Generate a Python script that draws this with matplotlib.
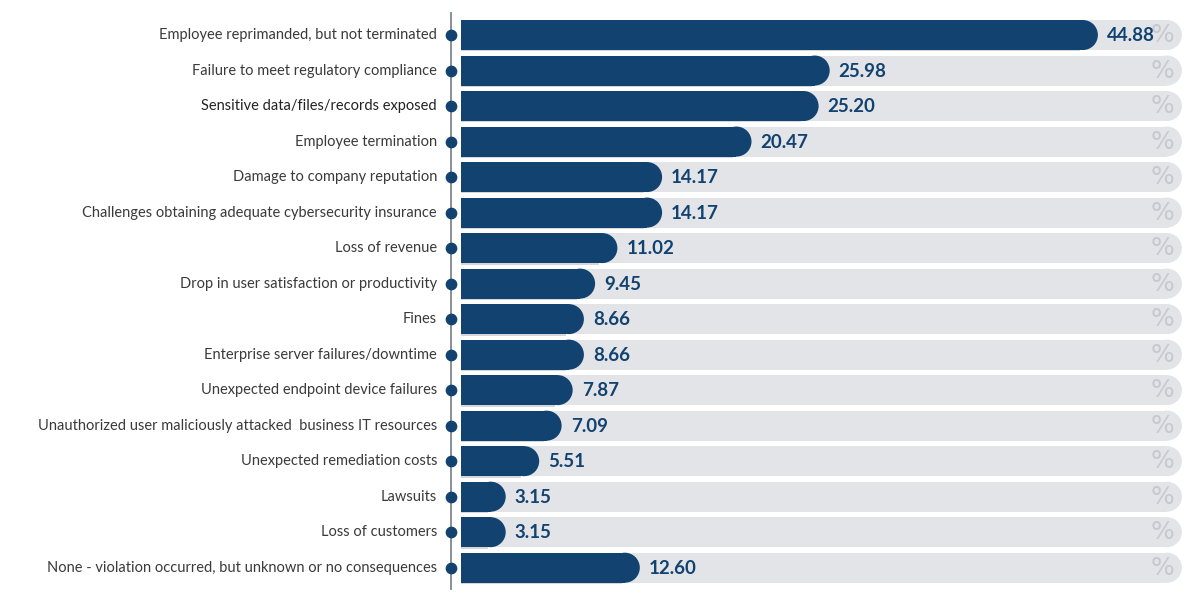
import numpy as np
import matplotlib.pyplot as plt
from matplotlib.patches import Rectangle, Ellipse

categories = [
    "Employee reprimanded, but not terminated",
    "Failure to meet regulatory compliance",
    "Sensitive data/files/records exposed",
    "Employee termination",
    "Damage to company reputation",
    "Challenges obtaining adequate cybersecurity insurance",
    "Loss of revenue",
    "Drop in user satisfaction or productivity",
    "Fines",
    "Enterprise server failures/downtime",
    "Unexpected endpoint device failures",
    "Unauthorized user maliciously attacked  business IT resources",
    "Unexpected remediation costs",
    "Lawsuits",
    "Loss of customers",
    "None - violation occurred, but unknown or no consequences",
]
values = [44.88, 25.98, 25.20, 20.47, 14.17, 14.17, 11.02, 9.45,
          8.66, 8.66, 7.87, 7.09, 5.51, 3.15, 3.15, 12.60]
track_max = 50.8

navy = "#12426f"
track_col = "#e2e4e8"
pct_col = "#c6c9ce"
label_col = "#3a3a3a"

plt.rcParams['font.family'] = ['Lato', 'DejaVu Sans']

fig = plt.figure(figsize=(12, 6), dpi=100)
ax = fig.add_axes([451 / 1200, 11 / 600, 739 / 1200, 576 / 600])
ax.set_xlim(-0.705, 51.37)
ax.set_ylim(15.6, -0.62)

bar_h = 0.845
fig.canvas.draw()
# horizontal cap radius in data units (half bar height in pixels)
px_per_y = abs(ax.transData.transform((0, 0))[1] - ax.transData.transform((0, 1))[1])
px_per_x = ax.transData.transform((1, 0))[0] - ax.transData.transform((0, 0))[0]
rx = bar_h / 2 * px_per_y / px_per_x


def rounded_bar(y, v, color, z):
    ax.add_patch(Rectangle((0, y - bar_h / 2), max(v - rx, 0), bar_h,
                           facecolor=color, edgecolor='none', zorder=z))
    ax.add_patch(Ellipse((max(v - rx, 0), y), 2 * rx, bar_h,
                         facecolor=color, edgecolor='none', zorder=z))


y_pos = np.arange(len(categories))
for y, v, cat in zip(y_pos, values, categories):
    rounded_bar(y, track_max, track_col, 1)
    # faint shadow under the bar
    ax.add_patch(Rectangle((0, y + bar_h / 2 - 0.02), max(v - rx * 1.2, 0), 0.06,
                           facecolor='#d4d6da', edgecolor='none', zorder=1.5))
    rounded_bar(y, v, navy, 2)
    ax.annotate(f"{v:.2f}", (v, y), xytext=(6.5, -0.5), textcoords='offset points',
                ha='left', va='center', fontsize=13.5, fontweight='bold',
                color=navy, zorder=4)
    ax.text(49.4, y, "%", ha='center', va='center', fontsize=18,
            color=pct_col, family='DejaVu Sans', zorder=3)
    ax.annotate(cat, (-0.705, y), xytext=(-10, 0), textcoords='offset points',
                ha='right', va='center', fontsize=10.5,
                color='#222222' if cat.startswith("Sensitive") else label_col,
                annotation_clip=False)

ax.axvline(-0.705, color='#7d8691', lw=1.3, zorder=5, clip_on=False)
ax.scatter(np.full(len(y_pos), -0.705), y_pos, s=55, color=navy,
           zorder=6, clip_on=False)

ax.set_axis_off()
fig.savefig("out.png", dpi=100)
